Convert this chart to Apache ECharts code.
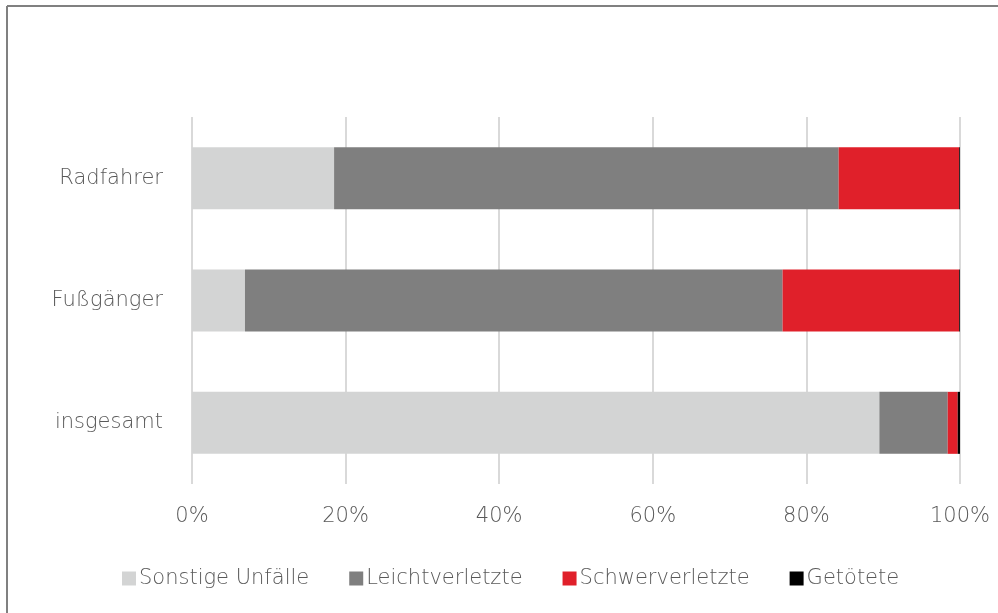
<!DOCTYPE html>
<html>
<head>
<meta charset="utf-8">
<script src="https://cdn.jsdelivr.net/npm/echarts@6/dist/echarts.min.js"></script>
<style>
  html, body { margin: 0; padding: 0; background: #ffffff; }
  #chart { width: 998px; height: 613px; }
</style>
</head>
<body>
<div id="chart"></div>
<script>
// Verkehrsunfälle nach Unfallfolge (Anteile in %)
const categories = ['insgesamt', 'Fußgänger', 'Radfahrer'];
const sonstigeUnfaelle = [89.5, 6.9, 18.5];
const leichtverletzte = [8.9, 70.0, 65.7];
const schwerverletzte = [1.3, 23.0, 15.7];
const getoetete = [0.3, 0.1, 0.1];
const xTicks = [0, 20, 40, 60, 80, 100];

const seriesNames = ['Sonstige Unfälle', 'Leichtverletzte', 'Schwerverletzte', 'Getötete'];
const seriesData = [sonstigeUnfaelle, leichtverletzte, schwerverletzte, getoetete];
const seriesColors = ['#d3d4d4', '#7f7f7f', '#e0202a', '#000000'];

const fontFamily = "'DejaVu Sans', sans-serif";
const textColor = '#595959';
const fontSize = 21;

const chart = echarts.init(document.getElementById('chart'), null, { renderer: 'canvas' });

chart.setOption({
  animation: false,
  backgroundColor: '#ffffff',
  textStyle: { fontFamily: fontFamily },
  graphic: [
    { type: 'line', shape: { x1: 7, y1: 6, x2: 998, y2: 6 }, style: { stroke: '#808080', lineWidth: 2 } },
    { type: 'line', shape: { x1: 7, y1: 6, x2: 7, y2: 613 }, style: { stroke: '#808080', lineWidth: 2 } }
  ],
  grid: { left: 192, right: 38, top: 117, bottom: 129, containLabel: false },
  legend: {
    left: 117,
    top: 563,
    itemWidth: 14,
    itemHeight: 14,
    itemGap: 40,
    icon: 'rect',
    textStyle: { color: textColor, fontSize: fontSize, fontWeight: 200, fontFamily: fontFamily, padding: [0, 0, 0, -2] },
    data: seriesNames
  },
  xAxis: {
    type: 'value',
    min: xTicks[0],
    max: xTicks[xTicks.length - 1],
    interval: xTicks[1] - xTicks[0],
    axisLine: { show: false },
    axisTick: { show: false },
    splitLine: { show: true, lineStyle: { color: '#d9d9d9', width: 2 } },
    axisLabel: {
      color: textColor,
      fontSize: fontSize,
      fontWeight: 200,
      margin: 22,
      formatter: v => v + '%'
    }
  },
  yAxis: {
    type: 'category',
    data: categories,
    axisLine: { show: false },
    axisTick: { show: false },
    splitLine: { show: false },
    axisLabel: { color: textColor, fontSize: fontSize, fontWeight: 200, margin: 29 }
  },
  series: seriesNames.map((name, i) => ({
    name: name,
    type: 'bar',
    stack: 'gesamt',
    barWidth: 62,
    itemStyle: { color: seriesColors[i] },
    data: seriesData[i]
  }))
});
</script>
</body>
</html>
